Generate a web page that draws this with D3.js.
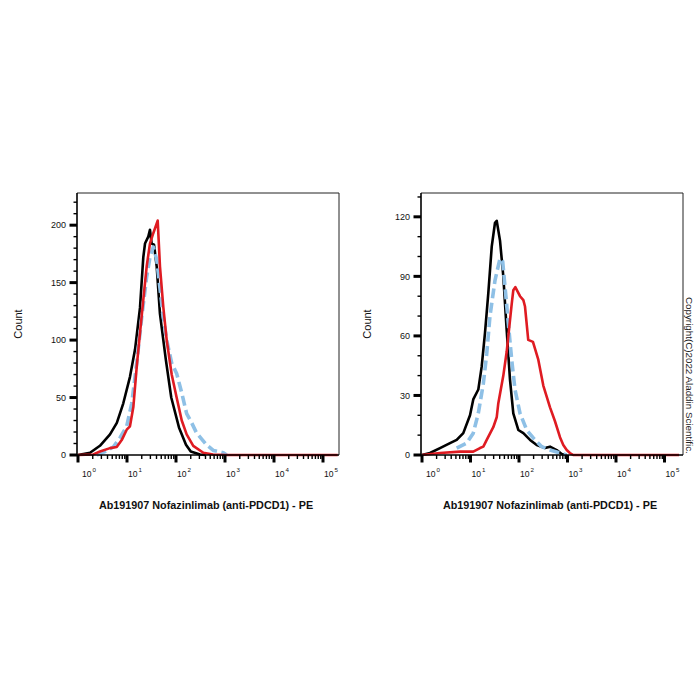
<!DOCTYPE html>
<html>
<head>
<meta charset="utf-8">
<script src="https://cdn.jsdelivr.net/npm/d3@7"></script>
<style>
  html, body { margin: 0; padding: 0; background: #fff; }
  svg { display: block; font-family: "Liberation Sans", Arial, sans-serif; }
</style>
</head>
<body>
<svg id="chart" width="700" height="700"></svg>
<script>
// ---------------- DATA ----------------
const xTickExponents = [0, 1, 2, 3, 4, 5];
const leftYTicks = [0, 50, 100, 150, 200];
const rightYTicks = [0, 30, 60, 90, 120];
const xTitle = "Ab191907 Nofazinlimab (anti-PDCD1) - PE";
const yTitle = "Count";
const copyright = "Copyright(C)2022 Aladdin Scientific.";

// [fluorescence intensity, count]
const leftBlack = [[1,0],[1.76,2],[2.8,8],[4.5,18],[6.2,28],[8.4,45],[11.5,68],[14.6,92],[18.4,128],[21.5,172],[23.3,184],[27.2,190],[29.4,196],[31.9,184],[35.6,183],[40.4,164],[47,123],[62,83],[80,50],[115,24],[160,9],[200,3],[309,0.5],[400,0]];
const leftRed = [[1,0],[2.05,0.5],[2.81,3],[4.5,6],[6.17,7],[7.8,13],[9.86,22],[11.5,25],[13.5,42],[15.8,77],[18.4,106],[21.5,135],[25.2,164],[29.4,184],[34.4,193],[42.3,204],[47.1,164],[55,129],[64.6,100],[81.7,70],[103,50],[131,30],[165,18],[225,8],[361,2],[569,0.5],[1000,0],[200000,0]];
const leftBlue = [[2.41,0],[3.56,3],[5.25,7],[7.2,15],[9.86,25],[12.5,45],[15.8,80],[20,120],[25.2,155],[29.4,172],[34.4,181],[40.4,170],[47.1,145],[55,120],[64.6,100],[81.7,80],[103,71],[131,54],[165,36],[209,28],[264,19],[423,8.7],[577,4],[923,2],[1083,0]];

const rightBlack = [[1,0],[1.46,1],[2.35,3.5],[3.78,6],[5.19,7.6],[7.1,11],[9.77,20],[11.4,28],[14.5,33],[17,44.5],[19.9,61.5],[23.3,81.6],[27.4,105],[32,117],[34.7,118],[40.6,108],[47.5,90],[55.7,63],[65.2,38],[76.3,21],[96.8,12.6],[123,11],[169,7.6],[232,5],[344,3.5],[436,4.2],[599,2.5],[759,0.5],[963,0]];
const rightRed = [[1,0],[2.35,1],[6.08,1.7],[11.4,1.7],[15.7,3.5],[18.4,4.2],[21.6,7.6],[29.5,14],[34.7,19],[37.4,26],[47.5,40],[55.7,52],[70.7,76],[76.3,83],[84,84.6],[105,80],[123,78],[133,74.8],[155,58],[194,57],[250,48],[317,35],[436,24],[552,17],[700,9],[819,5],[963,2.5],[1122,1],[1318,0],[200000,0]];
const rightBlue = [[5.19,3.5],[8.35,6],[11.4,11],[14.5,21],[18.4,36],[21.6,51],[25.2,70],[32,88],[40.6,99],[46.1,97.5],[51.4,85],[60.1,66.5],[70.7,48],[82.7,33],[105,21],[144,12.6],[197,8.6],[294,4.2],[436,2.5],[700,1],[963,0]];

// ---------------- LAYOUT ----------------
const panels = [
  { box: {l: 77, r: 339, t: 193, b: 455}, xr: [78, 323], yMax: 228, yTicks: leftYTicks, yMinorStep: 10,
    black: leftBlack, red: leftRed, blue: leftBlue, yTitleX: 22, titleX: 206 },
  { box: {l: 421, r: 683, t: 193, b: 455}, xr: [422, 664.5], yMax: 132, yTicks: rightYTicks, yMinorStep: 10,
    black: rightBlack, red: rightRed, blue: rightBlue, yTitleX: 371, titleX: 550 }
];

const svg = d3.select("#chart");
svg.append("rect").attr("width", 700).attr("height", 700).attr("fill", "#fff");

panels.forEach((p, i) => {
  const x = d3.scaleLog().domain([1, 1e5]).range(p.xr);
  const y = d3.scaleLinear().domain([0, p.yMax]).range([p.box.b, p.box.t]);
  const g = svg.append("g");

  const clipId = "clip" + i;
  svg.append("clipPath").attr("id", clipId).append("rect")
    .attr("x", p.box.l).attr("y", p.box.t - 10)
    .attr("width", p.box.r - p.box.l).attr("height", p.box.b - p.box.t + 12);

  // frame (top/right thin)
  g.append("path")
    .attr("d", `M${p.box.l},${p.box.t}H${p.box.r}V${p.box.b}`)
    .attr("fill", "none").attr("stroke", "#222").attr("stroke-width", 1);

  // curves
  const line = d3.line().x(d => x(d[0])).y(d => y(d[1])).curve(d3.curveLinear);
  const cg = g.append("g").attr("clip-path", `url(#${clipId})`);
  cg.append("path").datum(p.black).attr("d", line)
    .attr("fill", "none").attr("stroke", "#000").attr("stroke-width", 2.6).attr("stroke-linejoin", "round");
  cg.append("path").datum(p.blue).attr("d", line)
    .attr("fill", "none").attr("stroke", "#8ec0e6").attr("stroke-width", 3.6)
    .attr("stroke-dasharray", "10,4.5").attr("stroke-linejoin", "round");
  cg.append("path").datum(p.red).attr("d", line)
    .attr("fill", "none").attr("stroke", "#df1b22").attr("stroke-width", 2.6).attr("stroke-linejoin", "round");

  // y axis line
  g.append("line").attr("x1", p.box.l).attr("x2", p.box.l).attr("y1", p.box.t).attr("y2", p.box.b + 1)
    .attr("stroke", "#000").attr("stroke-width", 1.6);
  // x axis line
  g.append("line").attr("x1", p.box.l).attr("x2", p.box.r).attr("y1", p.box.b).attr("y2", p.box.b)
    .attr("stroke", "#000").attr("stroke-width", 1.6);

  // y ticks minor
  const yMinor = d3.range(0, p.yMax + 0.001, p.yMinorStep).filter(v => !p.yTicks.includes(v));
  g.selectAll(".ymin").data(yMinor).enter().append("line")
    .attr("x1", p.box.l - 3.5).attr("x2", p.box.l).attr("y1", d => y(d)).attr("y2", d => y(d))
    .attr("stroke", "#000").attr("stroke-width", 1.4);
  // y ticks major
  g.selectAll(".ymaj").data(p.yTicks).enter().append("line")
    .attr("x1", p.box.l - 7.5).attr("x2", p.box.l).attr("y1", d => y(d)).attr("y2", d => y(d))
    .attr("stroke", "#000").attr("stroke-width", 3);
  g.selectAll(".ylab").data(p.yTicks).enter().append("text")
    .attr("x", p.box.l - 11).attr("y", d => y(d) + 3.2)
    .attr("text-anchor", "end").attr("font-size", 9).attr("fill", "#111")
    .text(d => d);

  // x ticks
  const majors = xTickExponents.map(e => Math.pow(10, e));
  const minors = [];
  xTickExponents.slice(0, -1).forEach(e => { for (let k = 2; k <= 9; k++) minors.push(k * Math.pow(10, e)); });
  g.selectAll(".xmin").data(minors).enter().append("line")
    .attr("x1", d => x(d)).attr("x2", d => x(d)).attr("y1", p.box.b).attr("y2", p.box.b + 4)
    .attr("stroke", "#000").attr("stroke-width", 1.4);
  g.selectAll(".xmaj").data(majors).enter().append("line")
    .attr("x1", d => x(d)).attr("x2", d => x(d)).attr("y1", p.box.b).attr("y2", p.box.b + 7.5)
    .attr("stroke", "#000").attr("stroke-width", 3);
  const xl = g.selectAll(".xlab").data(xTickExponents).enter().append("text")
    .attr("x", d => x(Math.pow(10, d)) + (d === 0 ? 4 : 1)).attr("y", p.box.b + 22)
    .attr("text-anchor", "start").attr("font-size", 8.6).attr("fill", "#111");
  xl.append("tspan").text("10");
  xl.append("tspan").attr("dy", -5).attr("dx", 1).attr("font-size", 6.2).text(d => d);

  // titles
  g.append("text").attr("transform", `translate(${p.yTitleX},${(p.box.t + p.box.b) / 2 + 0}) rotate(-90)`)
    .attr("text-anchor", "middle").attr("font-size", 11).attr("fill", "#111").text(yTitle);
  g.append("text").attr("x", p.titleX).attr("y", 509)
    .attr("text-anchor", "middle").attr("font-size", 10.8).attr("font-weight", "bold").attr("fill", "#111")
    .text(xTitle);
});

svg.append("text").attr("transform", "translate(685.5,297) rotate(90)")
  .attr("text-anchor", "start").attr("font-size", 9.8).attr("fill", "#222").text(copyright);
</script>
</body>
</html>
